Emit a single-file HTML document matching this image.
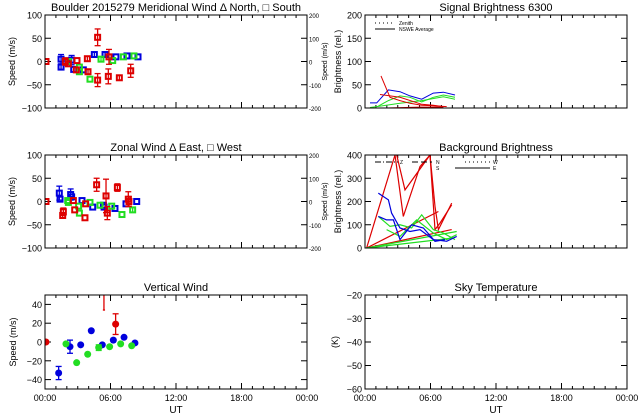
<!DOCTYPE html>
<html><head><meta charset="utf-8"><style>
body{margin:0;background:#fff;}
svg{display:block;font-family:"Liberation Sans",sans-serif;}
</style></head><body>
<svg id="c" width="640" height="420" xmlns="http://www.w3.org/2000/svg"></svg>
<script>
// ---- data (hours UT, values) ----
const merBlueT=[1.47,1.47,2.44,2.63,3.51,4.52,5.5,6.5,7.51,8.52];
const merBlueV=[-12,5,3,-17,-18,15,15,10,12,10];
const merBlueE=[6,10,10,0,0,5,5,0,0,0];
const merGreenT=[2.14,3.15,3.15,4.12,5.13,6.2,7.18,8.15];
const merGreenV=[0,-12,-22,-38,5,2,10,12];
const merGreenE=[5,0,0,0,5,0,0,0];
const merRedT=[0.09,1.86,2.14,2.87,2.93,3.88,3.94,4.82,4.82,5.8,5.86,6.81,7.85];
const merRedV=[0,0,-5,-18,2,6,-22,52,-40,-32,10,-35,-20];
const merRedE=[0,8,0,5,0,5,5,18,14,16,16,5,14];

const zonBlueT=[1.31,1.38,2.35,2.44,3.39,4.37,5.35,5.41,6.41,7.42,8.4];
const zonBlueV=[18,5,15,10,2,-12,-8,-12,-15,-5,0];
const zonBlueE=[15,0,12,0,0,0,0,0,0,0,0];
const zonGreenT=[2.08,2.14,3.08,3.15,4.12,5.04,6.11,7.05,8.03];
const zonGreenV=[2,-2,-10,-25,-2,-8,-10,-28,-18];
const zonGreenE=[0,0,0,0,0,0,0,0,5];
const zonRedT=[0.09,1.62,1.68,2.6,2.72,3.66,3.72,4.73,5.59,5.71,6.63,7.63,7.69];
const zonRedV=[0,-30,-22,2,-18,-35,-5,36,12,-25,30,5,0];
const zonRedE=[0,6,8,0,0,0,0,14,36,14,8,16,10];

const verBlueT=[1.25,2.29,3.27,4.24,5.25,6.26,7.24,8.24];
const verBlueV=[-33,-5,-3,12,-3,2,5,-1];
const verBlueE=[7,7,0,0,0,0,0,0];
const verGreenT=[1.92,2.9,3.91,4.92,5.92,6.93,7.94];
const verGreenV=[-2,-22,-13,-6,-5,-2,-4];
const verGreenE=[0,0,0,3,0,0,0];
const verRedT=[0.09,6.47];
const verRedV=[0,19];
const verRedE=[0,11];

const sigT=[[0.46,1.07,2.14,3.21,4.12,5.19,6.26,7.18,8.24],[1.22,2.14,3.21,4.12,5.19,6.26,7.18,8.24],[0.46,3.21,5.19,7.18,8.24],[1.47,2.29,3.21,4.12,5.19,6.26,7.48],[1.37,3.21,5.19,6.26,7.18],[0.15,1.98,5.04,7.18]];
const sigV=[[11,11,39,35,26,19,32,34,28],[4,16,26,23,13,23,28,23],[1,10,16,24,19],[69,23,16,10,6,5,3],[29,23,8,6,3],[0,0,2,2]];
const sigC=["#0000dd","#22dd22","#22dd22","#dd0000","#dd0000","#dd0000"];

const bgT=[[0.15,2.75,3.51,5.04,5.95,6.41,6.72,7.94],[2.9,3.66,5.95,6.41,6.87,7.94],[0.15,6.72],[0.15,7.94],[0.15,8.4],[0.15,8.09],[1.22,2.29,3.21,4.27,5.19,6.26,7.18,8.24],[1.98,3.21,4.73,6.26,7.48,8.4],[1.22,2.14,2.44,3.21,4.12,5.04,6.26,7.48,8.4],[1.22,1.98,2.6,3.21,4.27,5.35,6.41,7.33]];
const bgV=[[0,400,136,350,400,179,79,193],[400,250,400,79,107,186],[0,157],[0,79],[0,71],[0,43],[136,93,100,86,143,79,64,36],[79,50,121,64,36,57],[236,207,150,86,71,79,36,29,50],[136,121,121,36,100,86,29,36]];
const bgC=["#dd0000","#dd0000","#dd0000","#dd0000","#22dd22","#22dd22","#22dd22","#22dd22","#0000dd","#0000dd"];

const xTickLabels=["00:00","06:00","12:00","18:00","00:00"];

// ---- drawing ----
const svg=document.getElementById('c');
const NS="http://www.w3.org/2000/svg";
function mk(tag,attrs,name,parent){
  const e=document.createElementNS(NS,tag);
  for(const k in attrs)e.setAttribute(k,attrs[k]);
  
  
  (parent||svg).appendChild(e);return e;
}
function txt(x,y,s,size,anchor,name,rot){
  const t=mk('text',{x:x,y:y,'font-size':size,'text-anchor':anchor||'middle',fill:'#000'},name);
  if(rot)t.setAttribute('transform','rotate(-90 '+x+' '+y+')');
  t.textContent=s;return t;
}
function panel(p){
  const g=mk('g',{},p.name);
  const sx=t=>p.x0+t/24*p.w;
  const sy=v=>p.y0+p.h-(v-p.ymin)/(p.ymax-p.ymin)*p.h;
  const clip='clip-'+p.name;
  const cp=mk('clipPath',{id:clip},'clip',g);
  mk('rect',{x:p.x0,y:p.y0,width:p.w,height:p.h},'clip-rect',cp);
  const tt=txt(p.x0+p.w/2,p.y0-4,p.title,11,'middle','chart-title');
  tt.setAttribute('xml:space','preserve');
  p.yticks.forEach(v=>{
    const y=sy(v);
    mk('line',{x1:p.x0,x2:p.x0+6,y1:y,y2:y,stroke:'#000'},'y-tick',g);
    mk('line',{x1:p.x0+p.w-6,x2:p.x0+p.w,y1:y,y2:y,stroke:'#000'},'y-tick',g);
    txt(p.x0-3,y+3.5,String(v).replace('-','\u2212'),9,'end','y-tick-label');
  });
  for(let h=0;h<=24;h++){
    const x=sx(h),L=h%6==0?6:3;
    mk('line',{x1:x,x2:x,y1:p.y0+p.h,y2:p.y0+p.h-L,stroke:'#000'},'x-tick',g);
    mk('line',{x1:x,x2:x,y1:p.y0,y2:p.y0+L,stroke:'#000'},'x-tick',g);
  }
  if(p.xlabels){
    xTickLabels.forEach((s,i)=>txt(sx(i*6),p.y0+p.h+12,s,9,'middle','x-tick-label'));
    txt(p.x0+p.w/2,p.y0+p.h+24,'UT',10,'middle','x-axis-title');
  }
  txt(p.ylx,p.y0+p.h/2,p.ylabel,9,'middle','y-axis-title',true);
  if(p.right){
    [200,100,0,-100,-200].forEach((v,i)=>txt(p.x0+p.w+2,p.y0+i*p.h/4+3,String(v),6,'start','right-tick-label'));
    txt(p.x0+p.w+20,p.y0+p.h/2,'Speed (m/s)',7,'middle','right-axis-title',true);
  }
  const dg=mk('g',{'clip-path':'url(#'+clip+')'},'data',g);
  p.draw(dg,sx,sy);
  mk('rect',{x:p.x0,y:p.y0,width:p.w,height:p.h,fill:'none',stroke:'#000','stroke-width':1},'plot-frame',g);
}
function points(g,sx,sy,T,V,E,color,shape,name){
  T.forEach((t,i)=>{
    const x=sx(t),y=sy(V[i]);
    if(E[i]>0){
      const y1=sy(V[i]+E[i]),y2=sy(V[i]-E[i]);
      mk('line',{x1:x,x2:x,y1:y1,y2:y2,stroke:color,'stroke-width':1.3},name+'-errorbar',g);
      mk('line',{x1:x-3,x2:x+3,y1:y1,y2:y1,stroke:color,'stroke-width':1.3},name+'-errorcap',g);
      mk('line',{x1:x-3,x2:x+3,y1:y2,y2:y2,stroke:color,'stroke-width':1.3},name+'-errorcap',g);
    }
    if(shape=='c')mk('circle',{cx:x,cy:y,r:3.5,fill:color},name+'-point',g);
    else mk('rect',{x:x-2.5,y:y-2.5,width:5,height:5,fill:'none',stroke:color,'stroke-width':2},name+'-point',g);
  });
}
function lines(g,sx,sy,T,V,C,name,w){
  T.forEach((ts,j)=>{
    const d=ts.map((t,i)=>(i?'L':'M')+sx(t).toFixed(1)+','+sy(V[j][i]).toFixed(1)).join('');
    mk('path',{d:d,fill:'none',stroke:C[j],'stroke-width':w||1},name+'-line',g);
  });
}
const R="#dd0000",B="#0000dd",G="#22dd22";
panel({name:'meridional-wind-panel',x0:45,y0:15,w:262,h:93,ymin:-100,ymax:100,yticks:[100,50,0,-50,-100],
  title:'Boulder   2015279     Meridional Wind   \u0394 North, \u25a1 South',ylabel:'Speed (m/s)',ylx:15,right:true,
  draw:(g,sx,sy)=>{points(g,sx,sy,merBlueT,merBlueV,merBlueE,B,'s','meridional-blue');points(g,sx,sy,merGreenT,merGreenV,merGreenE,G,'s','meridional-green');points(g,sx,sy,merRedT,merRedV,merRedE,R,'s','meridional-red');}});
panel({name:'zonal-wind-panel',x0:45,y0:155,w:262,h:93,ymin:-100,ymax:100,yticks:[100,50,0,-50,-100],
  title:'Zonal Wind      \u0394 East, \u25a1 West',ylabel:'Speed (m/s)',ylx:15,right:true,
  draw:(g,sx,sy)=>{points(g,sx,sy,zonBlueT,zonBlueV,zonBlueE,B,'s','zonal-blue');points(g,sx,sy,zonGreenT,zonGreenV,zonGreenE,G,'s','zonal-green');points(g,sx,sy,zonRedT,zonRedV,zonRedE,R,'s','zonal-red');}});
panel({name:'vertical-wind-panel',x0:45,y0:295,w:262,h:94,ymin:-50,ymax:50,yticks:[40,20,0,-20,-40],
  title:'Vertical Wind',ylabel:'Speed (m/s)',ylx:16,xlabels:true,
  draw:(g,sx,sy)=>{points(g,sx,sy,verBlueT,verBlueV,verBlueE,B,'c','vertical-blue');points(g,sx,sy,verGreenT,verGreenV,verGreenE,G,'c','vertical-green');points(g,sx,sy,verRedT,verRedV,verRedE,R,'c','vertical-red');
    mk('line',{x1:sx(5.4),x2:sx(5.4),y1:sy(55),y2:sy(34),stroke:R,'stroke-width':1.3},'vertical-red-errorbar',g);
    mk('line',{x1:sx(5.3),x2:sx(5.5),y1:sy(34),y2:sy(34),stroke:R,'stroke-width':1.3},'vertical-red-errorcap',g);}});
panel({name:'signal-brightness-panel',x0:365,y0:15,w:262,h:93,ymin:0,ymax:200,yticks:[200,150,100,50,0],
  title:'Signal Brightness      6300',ylabel:'Brightness (rel.)',ylx:341,
  draw:(g,sx,sy)=>{lines(g,sx,sy,sigT,sigV,sigC,'signal');
    mk('line',{x1:375,x2:395,y1:23,y2:23,stroke:'#000','stroke-dasharray':'1,3'},'legend-zenith-line',g);
    mk('line',{x1:375,x2:395,y1:29,y2:29,stroke:'#000'},'legend-average-line',g);
    txt(399,25,'Zenith',5,'start','legend-zenith');txt(399,31,'NSWE Average',5,'start','legend-average');}});
panel({name:'background-brightness-panel',x0:365,y0:155,w:262,h:93,ymin:0,ymax:400,yticks:[400,300,200,100,0],
  title:'Background Brightness',ylabel:'Brightness (rel.)',ylx:341,
  draw:(g,sx,sy)=>{lines(g,sx,sy,bgT,bgV,bgC,'background',1.2);
    mk('line',{x1:375,x2:398,y1:162,y2:162,stroke:'#000','stroke-dasharray':'6,2,1,2'},'legend-z-line',g);
    mk('line',{x1:412,x2:432,y1:162,y2:162,stroke:'#000','stroke-dasharray':'6,3'},'legend-ns-line',g);
    mk('line',{x1:465,x2:490,y1:162,y2:162,stroke:'#000','stroke-dasharray':'1,3'},'legend-w-line',g);
    mk('line',{x1:455,x2:490,y1:168,y2:168,stroke:'#000'},'legend-e-line',g);
    txt(400,164,'Z',5,'start','legend-z');txt(436,164,'N',5,'start','legend-n');txt(436,170,'S',5,'start','legend-s');
    txt(493,164,'W',5,'start','legend-w');txt(493,170,'E',5,'start','legend-e');}});
panel({name:'sky-temperature-panel',x0:365,y0:295,w:262,h:94,ymin:-60,ymax:-20,yticks:[-20,-30,-40,-50,-60],
  title:'Sky Temperature',ylabel:'(K)',ylx:338,xlabels:true,draw:()=>{}});
</script>
</body></html>
